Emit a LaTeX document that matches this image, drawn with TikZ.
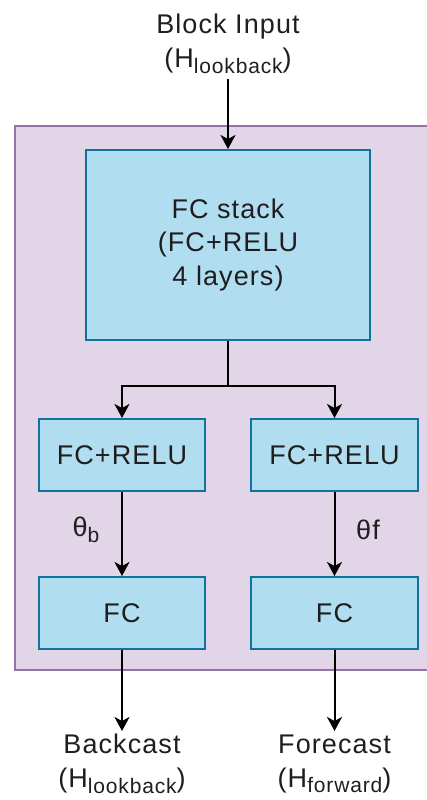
\documentclass[tikz,border=0pt]{standalone}
\usepackage{fontspec}
\setmainfont{Liberation Sans}[LetterSpace=4]
\usetikzlibrary{arrows.meta}
\definecolor{purfill}{HTML}{E1D5E7}
\definecolor{purline}{HTML}{9673A6}
\definecolor{bluefill}{HTML}{B1DDF0}
\definecolor{blueline}{HTML}{10739E}
\definecolor{txt}{HTML}{1E1E1E}
\newcommand\mysub[1]{\raisebox{-0.2em}{\fontsize{21}{21}\selectfont #1}}
\begin{document}
\begin{tikzpicture}[x=1pt,y=-1pt,
  box/.style={draw=blueline,fill=bluefill,line width=2pt,inner sep=0pt,align=center,text=txt,font=\fontsize{27}{33.5}\selectfont},
  lbl/.style={align=center,text=txt,font=\fontsize{27}{34}\selectfont,inner sep=0pt},
  arr/.style={line width=2pt,-{Stealth[width=15pt,length=14pt,inset=4pt]}},
  ln/.style={line width=2pt}]
\useasboundingbox (0,0) rectangle (427,800);
\fill[purfill] (15,126) rectangle (440,670);
\draw[purline,line width=2pt] (440,126) -- (15,126) -- (15,670) -- (440,670);
\node[lbl] (inp) at (228,44) {Block Input\\(H\mysub{lookback})};
\node[box,minimum width=284pt,minimum height=190pt] (stack) at (228,245) {FC stack\\(FC+RELU\\4 layers)};
\node[box,minimum width=166pt,minimum height=72pt] (reluL) at (122,455) {FC+RELU};
\node[box,minimum width=167pt,minimum height=72pt] (reluR) at (334.5,455) {FC+RELU};
\node[box,minimum width=166pt,minimum height=72pt] (fcL) at (122,613) {FC};
\node[box,minimum width=167pt,minimum height=72pt] (fcR) at (334.5,613) {FC};
\node[lbl] (thb) at (86,530) {θ\mysub{b}};
\node[lbl] (thf) at (368,530) {θf};
\node[lbl] (back) at (122,764) {Backcast\\(H\mysub{lookback})};
\node[lbl] (fore) at (334.5,764) {Forecast\\(H\mysub{forward})};
\coordinate (inTop) at (228,79);
\coordinate (br) at (228,386);
\coordinate (outL) at (122,731);
\coordinate (outR) at (334.5,731);
\draw[arr] (inTop) -- (stack.north);
\draw[ln] (stack.south) -- (br);
\draw[arr] (br) -| (reluL.north);
\draw[arr] (br) -| (reluR.north);
\draw[arr] (reluL) -- (fcL);
\draw[arr] (reluR) -- (fcR);
\draw[arr] (fcL) -- (outL);
\draw[arr] (fcR) -- (outR);
\end{tikzpicture}
\end{document}
